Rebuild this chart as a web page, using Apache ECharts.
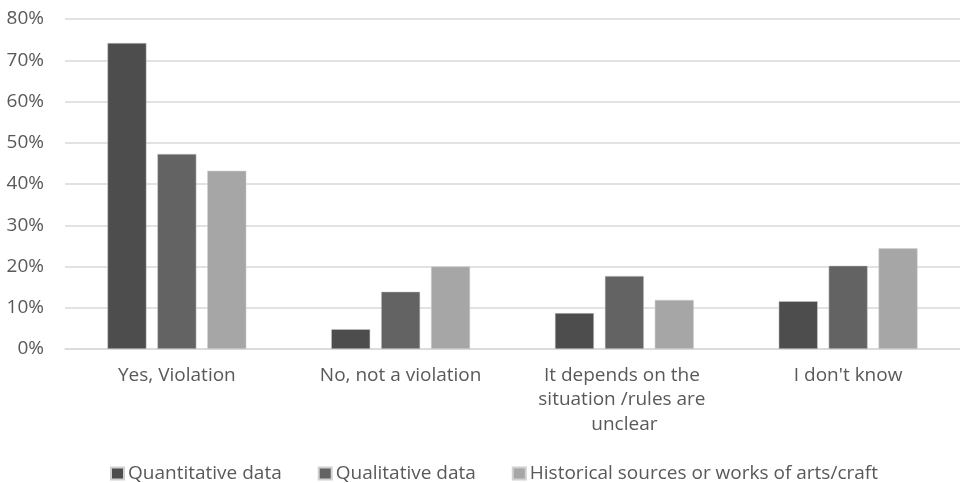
<!DOCTYPE html>
<html><head><meta charset="utf-8">
<script src="https://cdn.jsdelivr.net/npm/echarts@6/dist/echarts.min.js"></script>
<style>html,body{margin:0;padding:0;background:#fff}#c{width:960px;height:483px}</style>
</head><body><div id="c"></div>
<script>
const categories = ["Yes, Violation", "No, not a violation", "It depends on the situation /rules are unclear", "I don't know"];
const seriesNames = ["Quantitative data", "Qualitative data", "Historical sources or works of arts/craft"];
const quantitative = [74.2, 4.8, 8.7, 11.6];
const qualitative = [47.3, 13.9, 17.7, 20.2];
const historical = [43.2, 20.0, 11.9, 24.4];
const yTicks = [0, 10, 20, 30, 40, 50, 60, 70, 80];
const colors = ["#4d4d4d", "#636363", "#a6a6a6"];
const font = "'Open Sans', 'Segoe UI', sans-serif";
const chart = echarts.init(document.getElementById('c'), null, {renderer: 'canvas'});
const values = [quantitative, qualitative, historical];
chart.setOption({
  animation: false,
  grid: {left: 65, right: -5, top: 19, bottom: 134, containLabel: false},
  legend: {
    top: 464, left: 110, padding: 0,
    itemWidth: 13, itemHeight: 12, itemGap: 36,
    icon: 'rect',
    textStyle: {fontFamily: font, fontSize: 19, color: '#595959', padding: [0,0,0,-1]},
    data: seriesNames
  },
  xAxis: {
    type: 'category', data: categories,
    axisLine: {lineStyle: {color: '#d9d9d9', width: 1.5}},
    axisTick: {show: false},
    axisLabel: {fontFamily: font, fontSize: 19, color: '#595959', margin: 14, width: 190, overflow: 'break', lineHeight: 24.5, interval: 0}
  },
  yAxis: {
    type: 'value', min: 0, max: 80, interval: 10,
    axisLine: {show: false}, axisTick: {show: false},
    splitLine: {lineStyle: {color: '#d9d9d9', width: 1.5}},
    axisLabel: {fontFamily: font, fontSize: 19, color: '#595959', margin: 21, formatter: v => yTicks.includes(v) ? v + '%' : ''}
  },
  series: seriesNames.map((n, i) => ({
    name: n, type: 'bar', data: values[i],
    barWidth: 39, barGap: '28%',
    itemStyle: {color: colors[i], borderColor: '#d0d0d0', borderWidth: 0.5}
  }))
});
</script></body></html>
